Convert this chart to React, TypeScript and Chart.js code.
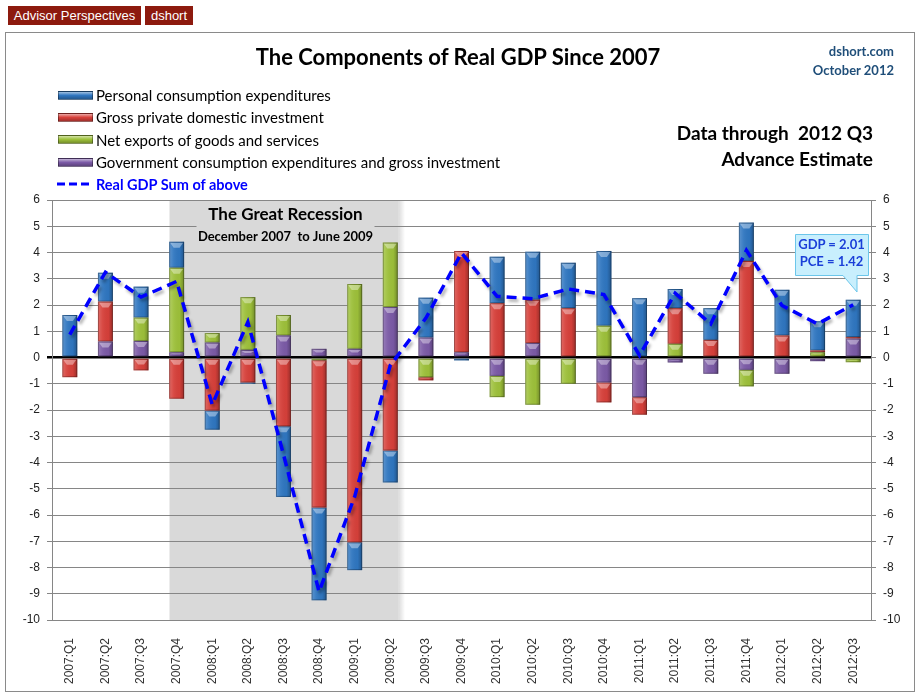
import React, { useEffect, useRef } from "react";
import { Chart, registerables } from "chart.js";

Chart.register(...registerables);

// ---------- DATA ----------
const categories = [
  "2007:Q1", "2007:Q2", "2007:Q3", "2007:Q4",
  "2008:Q1", "2008:Q2", "2008:Q3", "2008:Q4",
  "2009:Q1", "2009:Q2", "2009:Q3", "2009:Q4",
  "2010:Q1", "2010:Q2", "2010:Q3", "2010:Q4",
  "2011:Q1", "2011:Q2", "2011:Q3", "2011:Q4",
  "2012:Q1", "2012:Q2", "2012:Q3",
];
const pce = [1.62, 1.10, 1.18, 0.99, -0.73, -0.05, -2.69, -3.54, -1.06, -1.22, 1.52, -0.11, 1.77, 1.83, 1.73, 2.85, 2.26, 0.73, 1.21, 1.46, 1.74, 1.11, 1.42];
const gpdi = [-0.75, 1.52, -0.49, -1.57, -2.02, -0.95, -2.62, -5.61, -7.04, -3.54, -0.12, 3.86, 2.07, 1.65, 1.88, -0.76, -0.67, 1.36, 0.67, 3.68, 0.84, 0.07, 0.06];
const netExports = [0, 0, 0.89, 3.22, 0.36, 2.01, 0.78, -0.10, 2.47, 2.46, -0.75, 0, -0.81, -1.80, -0.95, 1.21, 0, 0.52, 0, -0.63, 0, 0.20, -0.18];
const government = [0, 0.61, 0.63, 0.20, 0.57, 0.29, 0.84, 0.33, 0.33, 1.92, 0.76, 0.20, -0.70, 0.55, -0.05, -0.95, -1.51, -0.19, -0.62, -0.47, -0.62, -0.14, 0.72];
const realGdp = [0.87, 3.25, 2.3, 2.9, -1.8, 1.35, -3.69, -8.92, -5.3, -0.3, 1.5, 3.98, 2.33, 2.24, 2.61, 2.4, 0.08, 2.45, 1.28, 4.08, 1.98, 1.28, 2.01];
const yTicks = { min: -10, max: 6, step: 1 };
const recessionFrom = "2007:Q4";
const recessionTo = "2009:Q2";

const seriesNames = {
  pce: "Personal consumption expenditures",
  gpdi: "Gross private domestic investment",
  nx: "Net exports of goods and services",
  gov: "Government consumption expenditures and gross investment",
  gdp: "Real GDP Sum of above",
};

const COLORS = {
  pce: "#2f76c0",
  gpdi: "#d6403a",
  nx: "#9dc03a",
  gov: "#7b5aa6",
  gdp: "#0000ff",
};

const CAL = "Lato, 'Liberation Sans', sans-serif";
const ARIAL = "'Liberation Sans', Arial, sans-serif";

const customPlugin = {
  id: "custom",
  beforeDraw(chart: any) {
    const { ctx, chartArea, scales } = chart;
    const x = scales.x;
    const cw = x.getPixelForValue(1) - x.getPixelForValue(0);
    const x0 = x.getPixelForValue(categories.indexOf(recessionFrom)) - 0.2 * cw;
    const x1 = x.getPixelForValue(categories.indexOf(recessionTo)) + 0.22 * cw;
    const h = chartArea.bottom - chartArea.top;
    ctx.save();
    ctx.fillStyle = "#d9d9d9";
    ctx.fillRect(x0, chartArea.top, x1 - x0, h);
    const g = ctx.createLinearGradient(x1, 0, x1 + 7, 0);
    g.addColorStop(0, "rgba(217,217,217,1)");
    g.addColorStop(1, "rgba(217,217,217,0)");
    ctx.fillStyle = g;
    ctx.fillRect(x1, chartArea.top, 7, h);
    ctx.restore();
  },
  beforeDatasetsDraw(chart: any) {
    const { ctx, chartArea, scales } = chart;
    const x = scales.x;
    const cw = x.getPixelForValue(1) - x.getPixelForValue(0);
    const x0 = x.getPixelForValue(categories.indexOf(recessionFrom)) - 0.2 * cw;
    const cx = x0 + 116;
    ctx.save();
    ctx.fillStyle = "#d9d9d9";
    ctx.fillRect(cx - 89, chartArea.top + 4, 178, 44);
    ctx.fillStyle = "#000";
    ctx.textAlign = "center";
    ctx.textBaseline = "middle";
    ctx.font = "bold 17px " + CAL;
    ctx.fillText("The Great Recession", cx, chartArea.top + 15);
    ctx.font = "bold 13px " + CAL;
    ctx.fillText("December 2007  to June 2009", cx, chartArea.top + 37);
    ctx.restore();
  },
  beforeDatasetDraw(chart: any, args: any) {
    if (args.meta.type === "line") {
      const ctx = chart.ctx;
      ctx.save();
      ctx.shadowColor = "rgba(0,0,0,0.3)";
      ctx.shadowBlur = 3;
      ctx.shadowOffsetX = 2;
      ctx.shadowOffsetY = 3;
    }
  },
  afterDatasetDraw(chart: any, args: any) {
    const meta = args.meta;
    const ctx = chart.ctx;
    if (meta.type === "line") {
      ctx.restore();
      return;
    }
    if (meta.type !== "bar") return;
    ctx.save();
    meta.data.forEach((el: any) => {
      const { x, y, base, width } = el.getProps(["x", "y", "base", "width"], true);
      const top = Math.min(y, base);
      const bottom = Math.max(y, base);
      const h = bottom - top;
      if (h < 0.8) return;
      const left = x - width / 2;
      const right = x + width / 2;
      const g = ctx.createLinearGradient(left, 0, right, 0);
      g.addColorStop(0, "rgba(255,255,255,0.22)");
      g.addColorStop(0.3, "rgba(255,255,255,0.06)");
      g.addColorStop(0.7, "rgba(0,0,0,0.02)");
      g.addColorStop(1, "rgba(0,0,0,0.28)");
      ctx.fillStyle = g;
      ctx.fillRect(left, top, width, h);
      const bh = Math.min(6, h / 2);
      ctx.beginPath();
      ctx.moveTo(left + 1, top + 1);
      ctx.lineTo(right - 1, top + 1);
      ctx.lineTo(right - width * 0.3, top + bh);
      ctx.lineTo(left + width * 0.3, top + bh);
      ctx.closePath();
      ctx.fillStyle = "rgba(255,255,255,0.38)";
      ctx.fill();
      ctx.strokeStyle = "rgba(0,0,0,0.28)";
      ctx.lineWidth = 1;
      ctx.strokeRect(left + 0.5, top + 0.5, width - 1, h - 1);
    });
    ctx.restore();
  },
};

function legendSwatch(color: string) {
  return {
    width: 35,
    height: 9,
    boxSizing: "border-box" as const,
    border: "1px solid rgba(0,0,0,0.35)",
    background: `linear-gradient(to bottom, rgba(255,255,255,0.55) 0%, rgba(255,255,255,0.15) 35%, ${color} 50%, rgba(0,0,0,0.25) 100%), ${color}`,
    marginRight: 3,
    flex: "none",
  };
}

export default function App() {
  const canvasRef = useRef<HTMLCanvasElement | null>(null);

  useEffect(() => {
    if (!canvasRef.current) return;
    const gridColor = "#868686";
    const tickFont = { family: ARIAL, size: 12 };
    const chart = new Chart(canvasRef.current, {
      type: "bar",
      data: {
        labels: categories,
        datasets: [
          {
            type: "line",
            label: seriesNames.gdp,
            data: realGdp,
            borderColor: COLORS.gdp,
            borderWidth: 3.5,
            borderDash: [10, 6],
            pointRadius: 0,
            tension: 0,
            fill: false,
            stack: "gdp",
            order: 0,
          } as any,
          { label: seriesNames.gov, data: government, backgroundColor: COLORS.gov, stack: "c", order: 1 },
          { label: seriesNames.nx, data: netExports, backgroundColor: COLORS.nx, stack: "c", order: 1 },
          { label: seriesNames.gpdi, data: gpdi, backgroundColor: COLORS.gpdi, stack: "c", order: 1 },
          { label: seriesNames.pce, data: pce, backgroundColor: COLORS.pce, stack: "c", order: 1 },
        ],
      },
      options: {
        responsive: false,
        animation: false,
        layout: { padding: { top: 200, left: 0, right: 0, bottom: 0 } },
        datasets: { bar: { categoryPercentage: 1, barPercentage: 0.42 } },
        plugins: { legend: { display: false }, tooltip: { enabled: false } },
        scales: {
          x: {
            stacked: true,
            grid: { display: false },
            border: { display: false },
            ticks: {
              autoSkip: false,
              minRotation: 90,
              maxRotation: 90,
              padding: 10,
              color: "#333",
              font: tickFont,
            },
            afterFit: (s: any) => {
              s.height = 74;
            },
          },
          y: {
            stacked: true,
            min: yTicks.min,
            max: yTicks.max,
            ticks: { stepSize: yTicks.step, padding: 7, color: "#222", font: tickFont },
            grid: {
              color: (c: any) => (c.tick && c.tick.value === 0 ? "#000" : gridColor),
              lineWidth: (c: any) => (c.tick && c.tick.value === 0 ? 2.5 : 1),
              tickLength: 5,
            },
            border: { color: gridColor },
            afterFit: (s: any) => {
              s.width = 52;
            },
          },
          y2: {
            position: "right",
            min: yTicks.min,
            max: yTicks.max,
            ticks: { stepSize: yTicks.step, padding: 7, color: "#222", font: tickFont },
            grid: { drawOnChartArea: false, tickLength: 5, color: gridColor },
            border: { color: gridColor },
            afterFit: (s: any) => {
              s.width = 45;
            },
          },
        },
      } as any,
      plugins: [customPlugin],
    });
    return () => chart.destroy();
  }, []);

  const last = categories.length - 1;
  const legendRows = [
    { name: seriesNames.pce, color: COLORS.pce, y: 95 },
    { name: seriesNames.gpdi, color: COLORS.gpdi, y: 117 },
    { name: seriesNames.nx, color: COLORS.nx, y: 139.5 },
    { name: seriesNames.gov, color: COLORS.gov, y: 162 },
  ];

  const badge = {
    position: "absolute" as const,
    top: 6,
    height: 19,
    background: "#8d1a0e",
    color: "#fff",
    fontFamily: ARIAL,
    fontSize: 13,
    lineHeight: "19px",
    textAlign: "center" as const,
  };

  return (
    <div style={{ position: "absolute", left: 0, top: 0, width: 916, height: 694, background: "#fff", overflow: "hidden" }}>
      <div style={{ ...badge, left: 8, width: 133 }}>Advisor Perspectives</div>
      <div style={{ ...badge, left: 145, width: 48 }}>dshort</div>
      <div style={{ position: "absolute", left: 5, top: 32, width: 910, height: 660, border: "1px solid #8a8a8a", boxSizing: "border-box" }} />
      <canvas ref={canvasRef} width={916} height={694} style={{ position: "absolute", left: 0, top: 0 }} />
      <div style={{ position: "absolute", left: 0, width: 916, top: 42, textAlign: "center", fontFamily: CAL, fontWeight: 700, fontSize: 22, lineHeight: "30px", color: "#000" }}>
        The Components of Real GDP Since 2007
      </div>
      <div style={{ position: "absolute", right: 22, top: 42, textAlign: "right", fontFamily: CAL, fontWeight: 700, fontSize: 13, lineHeight: "19px", color: "#1f4e79" }}>
        <div>dshort.com</div>
        <div>October 2012</div>
      </div>
      <div style={{ position: "absolute", right: 43, top: 120, textAlign: "right", fontFamily: CAL, fontWeight: 700, fontSize: 19, lineHeight: "26px", color: "#000" }}>
        <div>Data through&nbsp; 2012 Q3</div>
        <div>Advance Estimate</div>
      </div>
      {legendRows.map((r) => (
        <div key={r.name} style={{ position: "absolute", left: 58, top: r.y - 10, height: 20, display: "flex", alignItems: "center", fontFamily: CAL, fontSize: 15, color: "#000", whiteSpace: "nowrap" }}>
          <div style={legendSwatch(r.color)} />
          <span>{r.name}</span>
        </div>
      ))}
      <div style={{ position: "absolute", left: 57, top: 174, height: 20, display: "flex", alignItems: "center", fontFamily: CAL, fontSize: 14.5, fontWeight: 700, color: COLORS.gdp, whiteSpace: "nowrap" }}>
        <svg width={38} height={6} style={{ marginRight: 1, flex: "none" }}>
          <line x1={0} y1={3} x2={34} y2={3} stroke={COLORS.gdp} strokeWidth={3} strokeDasharray="8,4" />
        </svg>
        <span>{seriesNames.gdp}</span>
      </div>
      <svg width={80} height={62} style={{ position: "absolute", left: 793, top: 232 }}>
        <path d="M2.5 2.5 H75.5 V43.5 H64 V60 L50 43.5 H2.5 Z" fill="#c8effd" stroke="#6cc6ea" strokeWidth={1} />
      </svg>
      <div style={{ position: "absolute", left: 795, top: 236, width: 73, textAlign: "center", fontFamily: CAL, fontWeight: 700, fontSize: 13, lineHeight: "17px", color: "#1a3fd8" }}>
        <div>GDP = {realGdp[last].toFixed(2)}</div>
        <div>PCE = {pce[last].toFixed(2)}</div>
      </div>
    </div>
  );
}
